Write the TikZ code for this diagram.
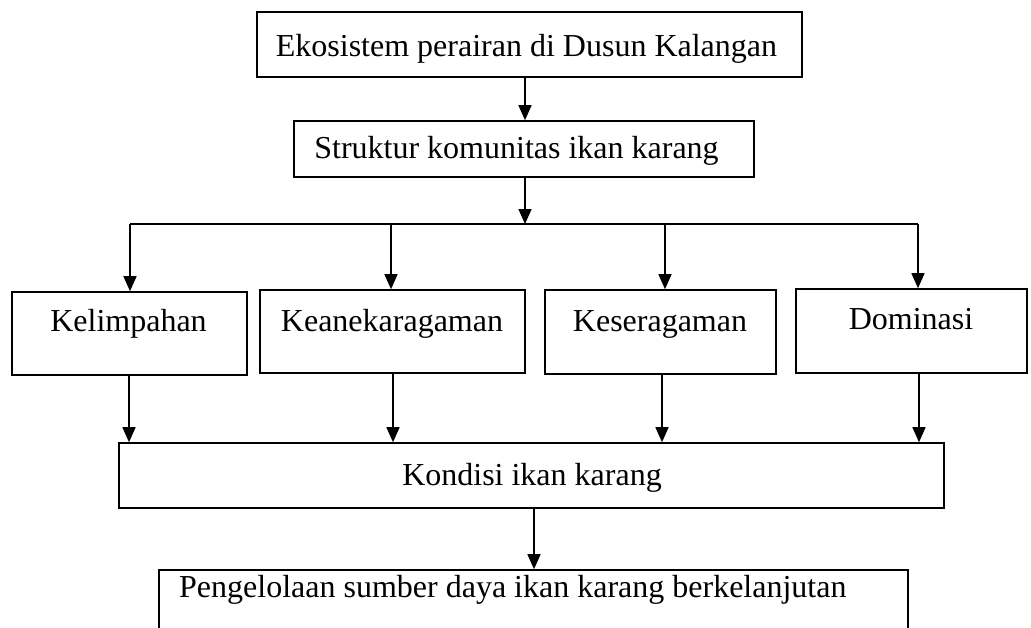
\documentclass[tikz,border=0pt]{standalone}
\usepackage{fontspec}
\setmainfont{Liberation Serif}
\usetikzlibrary{arrows.meta}
\begin{document}
\begin{tikzpicture}[x=1pt,y=-1pt,
  box/.style={draw,line width=1.6pt,rectangle,inner sep=0pt},
  txt/.style={inner sep=0pt,anchor=base,font=\fontsize{32}{38}\selectfont},
  arr/.style={line width=1.5pt,-{Triangle[width=13pt,length=15pt]}},
  ln/.style={line width=1.5pt}]
\clip (0,0) rectangle (1031,627);
\fill[white] (0,0) rectangle (1031,627);
% boxes
\node[box,minimum width=545pt,minimum height=65pt] (top) at (529.5,44.5) {};
\node[box,minimum width=460pt,minimum height=56pt] (str) at (524,149) {};
\node[box,minimum width=235pt,minimum height=83pt] (kel) at (129.5,333.5) {};
\node[box,minimum width=265pt,minimum height=83pt] (kea) at (392.5,331.5) {};
\node[box,minimum width=231pt,minimum height=84pt] (kes) at (660.5,332) {};
\node[box,minimum width=231pt,minimum height=84pt] (dom) at (911.5,331) {};
\node[box,minimum width=825pt,minimum height=65pt] (kon) at (531.5,475.5) {};
\node[box,minimum width=749pt,minimum height=100pt] (pen) at (533.5,620) {};
% texts
\node[txt] (tTop) at (526.5,56) {Ekosistem perairan di Dusun Kalangan};
\node[txt] (tStr) at (516.5,158) {Struktur komunitas ikan karang};
\node[txt] (tKel) at (128.5,331) {Kelimpahan};
\node[txt] (tKea) at (392,331) {Keanekaragaman};
\node[txt] (tKes) at (660,331) {Keseragaman};
\node[txt] (tDom) at (911,329) {Dominasi};
\node[txt] (tKon) at (532,485) {Kondisi ikan karang};
\node[txt,anchor=base west] (tPen) at (179,597) {Pengelolaan sumber daya ikan karang berkelanjutan};
% branch coordinates
\coordinate (bA) at (130,224);
\coordinate (bB) at (391,224);
\coordinate (bC) at (665,224);
\coordinate (bD) at (918,224);
\coordinate (bM) at (525,224);
\coordinate (dA) at (129,0);
\coordinate (dB) at (393,0);
\coordinate (dC) at (662,0);
\coordinate (dD) at (919,0);
\coordinate (dK) at (534,0);
% connectors
\draw[arr] (bM |- top.south) -- (bM |- str.north);
\draw[arr] (bM |- str.south) -- (bM);
\draw[ln] (bA) -- (bD);
\draw[arr] (bA) -- (bA |- kel.north);
\draw[arr] (bB) -- (bB |- kea.north);
\draw[arr] (bC) -- (bC |- kes.north);
\draw[arr] (bD) -- (bD |- dom.north);
\draw[arr] (dA |- kel.south) -- (dA |- kon.north);
\draw[arr] (dB |- kea.south) -- (dB |- kon.north);
\draw[arr] (dC |- kes.south) -- (dC |- kon.north);
\draw[arr] (dD |- dom.south) -- (dD |- kon.north);
\draw[arr] (dK |- kon.south) -- (dK |- pen.north);
\end{tikzpicture}
\end{document}
